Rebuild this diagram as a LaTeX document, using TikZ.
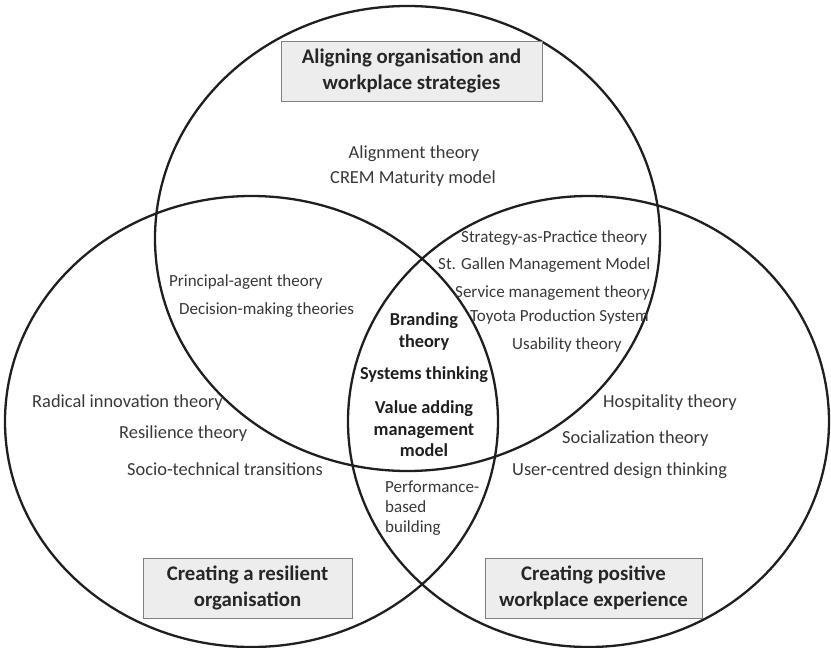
\documentclass[tikz,border=0pt]{standalone}
\usepackage{fontspec}
\setmainfont{Carlito}
\begin{document}
\begin{tikzpicture}[x=1pt,y=-1pt,
  ring/.style={line width=2.3pt, draw=black!88},
  lbl/.style={font=\fontsize{18.4}{20}\selectfont, text=black!78, inner sep=0pt, anchor=west},
  small/.style={font=\fontsize{17}{20}\selectfont},
  core/.style={font=\bfseries\fontsize{18.3}{21.5}\selectfont, text=black!88, align=center, inner sep=0pt},
  titlebox/.style={draw=black!50, fill=black!7, line width=0.8pt, minimum height=60pt, inner sep=0pt,
    font=\bfseries\fontsize{20.8}{25.5}\selectfont, text=black!85, align=center}]
\useasboundingbox (0,0) rectangle (831,648);
% circles
\draw[ring] (407.5,238.5) ellipse [x radius=252.5pt, y radius=232.5pt];
\draw[ring] (251.5,421.5) ellipse [x radius=246.5pt, y radius=225.5pt];
\draw[ring] (588.5,421.5) ellipse [x radius=240.5pt, y radius=225.5pt];
% title boxes
\node[titlebox, minimum width=261pt] (tAlign) at (411.5,71) {Aligning organisation and\\workplace strategies};
\node[titlebox, minimum width=209pt] (tResil) at (247.5,588) {Creating a resilient\\organisation};
\node[titlebox, minimum width=217pt] (tPos) at (593.5,588) {Creating positive\\workplace experience};
% top circle only
\node[lbl, anchor=center] (align) at (414,154) {Alignment theory};
\node[lbl, anchor=center] (crem) at (413,179) {CREM Maturity model};
% top & right
\node[lbl, small] (sap) at (461,238) {Strategy-as-Practice theory};
\node[lbl, small] (stg) at (438,265) {St. Gallen Management Model};
\node[lbl, small] (svc) at (455,293) {Service management theory};
\node[lbl, small] (toy) at (470,317) {Toyota Production System};
\node[lbl, small] (usa) at (512,345) {Usability theory};
% top & left
\node[lbl, small] (pat) at (169,282) {Principal-agent theory};
\node[lbl, small] (dmt) at (179,310) {Decision-making theories};
% centre
\node[core] (brand) at (424,331.5) {Branding\\theory};
\node[core] (sys) at (424,375) {Systems thinking};
\node[core] (vam) at (424,429) {Value adding\\management\\model};
% left & right
\node[lbl, small, align=left] (pbb) at (385,508) {Performance-\\based\\building};
% left only
\node[lbl] (rad) at (32,403) {Radical innovation theory};
\node[lbl] (res) at (119,434) {Resilience theory};
\node[lbl] (soc) at (127,469) {Socio-technical transitions};
% right only
\node[lbl] (hos) at (603,403) {Hospitality theory};
\node[lbl] (sz) at (562,439) {Socialization theory};
\node[lbl] (ucd) at (512,471) {User-centred design thinking};
\end{tikzpicture}
\end{document}
